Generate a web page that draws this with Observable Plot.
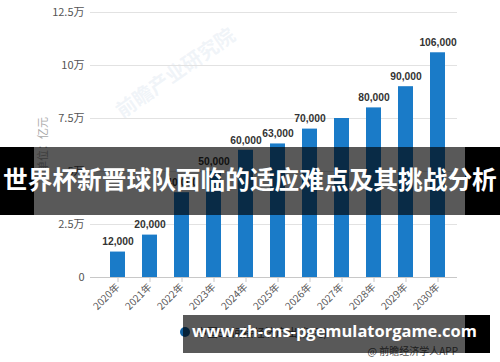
<!DOCTYPE html>
<html>
<head>
<meta charset="utf-8">
<script src="https://cdn.jsdelivr.net/npm/d3@7"></script>
<script src="https://cdn.jsdelivr.net/npm/@observablehq/plot@0.6"></script>
<style>
  html, body { margin: 0; padding: 0; background: #fff; }
  #wrap { position: relative; width: 500px; height: 362px; overflow: hidden; font-family: "Noto Sans CJK SC", "Noto Sans", sans-serif; }
  #chart svg { display: block; }
  .abs { position: absolute; }
</style>
</head>
<body>
<div id="wrap">
  <div class="abs" id="wm" style="left:112px;top:104px;transform:rotate(-35deg);transform-origin:left top;font-size:20px;font-weight:bold;color:rgba(190,205,225,0.22);white-space:nowrap;line-height:1;">前瞻产业研究院</div>
  <div id="chart" style="position:relative;"></div>
  <div class="abs" id="ytitle" style="left:34px;top:172px;transform:rotate(-90deg);transform-origin:left top;font-size:11px;color:#aaa;white-space:nowrap;">单位：亿元</div>
  <div class="abs" id="legend" style="left:180px;top:324px;font-size:11px;color:#444;white-space:nowrap;display:flex;align-items:center;">
    <span style="display:inline-block;width:10px;height:10px;border-radius:5px;background:#0f5fa0;margin-right:6px;"></span><span id="legendText"></span>
  </div>
  <div class="abs" id="source" style="right:42px;top:343px;font-size:10px;color:#555;white-space:nowrap;"></div>
  <!-- overlay title band -->
  <div class="abs" style="left:0;top:147px;width:34px;height:68px;background:#000;"></div>
  <div class="abs" style="left:34px;top:147px;width:431px;height:68px;background:rgba(0,0,0,0.65);"></div>
  <div class="abs" style="left:465px;top:147px;width:35px;height:68px;background:#000;"></div>
  <div class="abs" id="bandTitle" style="left:3px;top:166px;font-size:24.6px;font-weight:bold;color:#fff;white-space:nowrap;line-height:1;"></div>
  <!-- overlay url band -->
  <div class="abs" style="left:183px;top:315px;width:282px;height:38px;background:rgba(0,0,0,0.65);"></div>
  <div class="abs" style="left:465px;top:315px;width:25px;height:38px;background:#000;"></div>
  <div class="abs" id="url" style="left:192px;top:323px;font-family:'Open Sans',sans-serif;font-size:18px;font-weight:bold;color:#fff;white-space:nowrap;line-height:1;"></div>
</div>
<script>
const years = ["2020年","2021年","2022年","2023年","2024年","2025年","2026年","2027年","2028年","2029年","2030年"];
const values = [12000, 20000, 40000, 50000, 60000, 63000, 70000, 75000, 80000, 90000, 106000];
const valueLabels = ["12,000","20,000","40,000","50,000","60,000","63,000","70,000","","80,000","90,000","106,000"];
const yTicks = [0, 25000, 50000, 75000, 100000, 125000];
const yTickLabels = ["0", "2.5万", "5万", "7.5万", "10万", "12.5万"];
const seriesName = "中国5G间接经济产出(亿元)";
const sourceText = "@ 前瞻经济学人APP";
const overlayTitle = "世界杯新晋球队面临的适应难点及其挑战分析";
const overlayUrl = "www.zh-cns-pgemulatorgame.com";

const data = years.map((y, i) => ({year: y, value: values[i], label: valueLabels[i]}));

const chart = Plot.plot({
  width: 500,
  height: 362,
  marginLeft: 90,
  marginRight: 43,
  marginTop: 12,
  marginBottom: 85,
  style: {fontFamily: "'Noto Sans CJK SC', 'Noto Sans', sans-serif", fontSize: "11px", color: "#555", background: "transparent"},
  x: {domain: years, paddingInner: 0.54, paddingOuter: 0.4, align: 0.62, label: null},
  y: {domain: [0, 125000], label: null},
  marks: [
    Plot.gridY(yTicks, {stroke: "#e2e2e2", strokeOpacity: 1}),
    Plot.axisY(yTicks, {tickSize: 0, tickPadding: 6, fontSize: 11, fill: "#555",
      tickFormat: d => yTickLabels[yTicks.indexOf(d)], label: null}),
    Plot.barY(data, {x: "year", y: "value", fill: "#1a7bc8"}),
    Plot.ruleY([0], {stroke: "#c8c8c8"}),
    Plot.axisX({tickSize: 5, stroke: "#c8c8c8", tickRotate: -45, tickPadding: 3, fontSize: 10, fill: "#555", label: null}),
    Plot.text(data, {x: "year", y: "value", text: "label", dy: -10, fontWeight: "bold", fontSize: 10.3, fill: "#333", fontFamily: "'Liberation Sans', Arial, sans-serif"})
  ]
});
document.getElementById("chart").appendChild(chart);
document.getElementById("legendText").textContent = seriesName;
document.getElementById("source").textContent = sourceText;

function fit(id, text, targetWidth) {
  const el = document.getElementById(id);
  el.textContent = text;
  const w = el.getBoundingClientRect().width;
  const fs = parseFloat(getComputedStyle(el).fontSize);
  if (w > 0) el.style.fontSize = (fs * targetWidth / w) + "px";
}
fit("bandTitle", overlayTitle, 494);
fit("url", overlayUrl, 285);
</script>
</body>
</html>
